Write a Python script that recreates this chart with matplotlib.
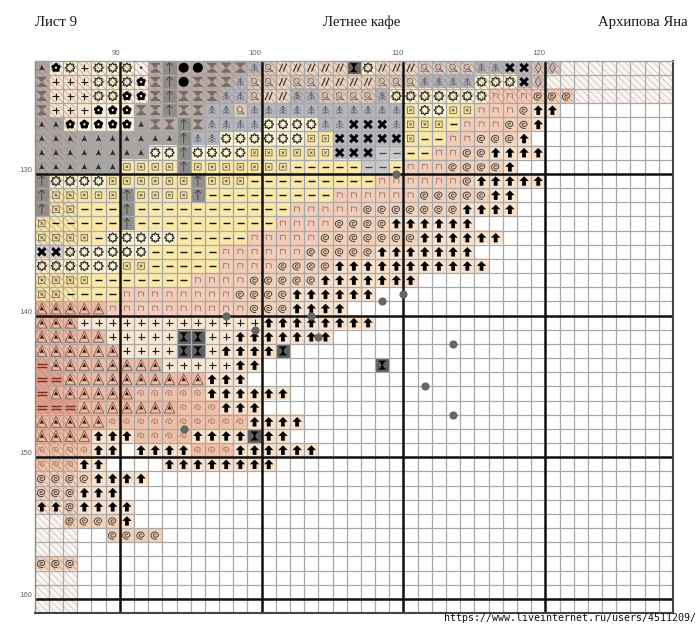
import numpy as np
import matplotlib
matplotlib.use("Agg")
import matplotlib.pyplot as plt
from matplotlib.path import Path
from matplotlib.collections import LineCollection
from matplotlib.colors import to_rgb

# ---------- data ----------
PAGE_LABEL = "Лист 9"
TITLE = "Летнее кафе"
AUTHOR = "Архипова Яна"
WATERMARK = "https://www.liveinternet.ru/users/4511209/"
COL_TICKS = [6, 16, 26, 36]
COL_LABELS = ["90", "100", "110", "120"]
ROW_TICKS = [8, 18, 28, 38]
ROW_LABELS = ["130", "140", "150", "160"]
N_COLS = 45
N_ROWS = 39

PATTERN = [
    "AFO+OOO.N^@@NNNT" "Q/////HO//" "/QQQQ" "TTXXDD",
    "N+++OOOFN^@NNNTQ" "Q/QQ////QQ" "QTTTT" "OOOXD",
    "N+++OOFFN^NNNTTQ" "//TTQQQQTO" "OOOOOO" "nnnSSS",
    "N+++FFFNN^NNTTQT" "TTTTTTTTTT" "BOOBBnnnSaa",
    "AAFFFFFANN^NTTTT" "OOOOTTXXXT" "BBB-nnnSSa",
    "AAAAAAAAAA^TTOOO" "OOOBBXXXXX" "B--nnSSSa",
    "AAAAAAAAOO^OOOOB" "BBBBBXXX~~" "--nnSSaaaa",
    "AAAAAABBBB^BBBBB" "BB-----~~-" "nnnSSSSa",
    "^OOOOBBBBBB^BBB-" "--------nn" "nnnnSaaaaa",
    "^BBBBB^BBBB^----" "-----nnnnn" "nSSSSSaa",
    "^BB---^---------" "--nnnnnSSS" "SSSSaaaa",
    "B-----^---------" "-nnnnSSSSa" "aaaaa",
    "BBBB-OOOOO-----n" "nnnnSSSSSS" "Saaaaaa",
    "xxOOOOOO-----nnn" "nnnSSSSSaa" "aaaaa",
    "OOOOOOBB-----nnn" "nSSSSaaaaa" "aaaaaa",
    "BBBB-------nnnnS" "SSSSaaaaaa" "a",
    "BB----nnnnnnnnSS" "SSaaaaaa",
    "VVVVVnnnnnnnnnnS" "SSaaaa",
    "VVV+++++++++++++" "aaaaaaaa",
    "VVVVV+++++HH++aa" "aaaaa",
    "VVVVVV++++HH+aaa" "aH",
    "=VVVVVVVV+++++aa" "        H",
    "==VVVVVVVVVVaaa ",
    "=VVVVVVsssssaaaa" "aa",
    "===VVVVVVVsssaaa",
    "VVVVVssssssssssa" "aaa",
    "VVVVaaassssaaaaH" "aa",
    "ssssaa aaaasssaa" "aaaa",
    "sssaa    aaaaaaa" "a",
    "SSSSaaaa",
    "SSSaaa",
    "aaSaaaa",
    "  SSSSa",
    "     SSSS",
    "",
    "SSS",
    "",
    "",
    "",
]

# extra grey knots placed on the grid (column, row)
KNOT_COLS = [25.5, 26.0, 24.5, 13.5, 19.5, 15.5, 20.0, 29.5, 27.5, 29.5, 10.5]
KNOT_ROWS = [8.0, 16.5, 17.0, 18.0, 18.0, 19.0, 19.5, 20.0, 23.0, 25.0, 26.0]

CELL_COLOURS = {
    " ": "#ffffff", "A": "#a9a5a2", "F": "#fbf1df", "O": "#fcf6d6", "+": "#f8e8d3",
    "N": "#b9aca6", "^": "#8f8e8b", "@": "#b8aca8", ".": "#fbf4ec", "T": "#b4b5bd",
    "Q": "#d9cabb", "/": "#e9d6c3", "H": "#5f5f5f", "B": "#f7e5a9", "-": "#fae9a9",
    "~": "#c9c9cb", "n": "#f3cdb9", "S": "#f3d2bb", "a": "#f9e3cf", "X": "#b4b5bd",
    "x": "#d3ccd8", "D": "#d3c6bf", "V": "#efb9a2", "s": "#efc1a9", "=": "#ea9f88",
}

# ---------- glyph shapes ----------
def poly(pts):
    pts = list(pts) + [pts[0]]
    return Path(pts, [Path.MOVETO] + [Path.LINETO] * (len(pts) - 2) + [Path.CLOSEPOLY])

def lines(*segs):
    v, c = [], []
    for s in segs:
        v += list(s)
        c += [Path.MOVETO] + [Path.LINETO] * (len(s) - 1)
    return Path(v, c)

def curve(t, r):
    return list(zip(r * np.cos(t), r * np.sin(t)))

th = np.linspace(0, 2 * np.pi, 65)
ARROW = poly([(0, 1), (1, 0), (.4, 0), (.4, -1), (-.4, -1), (-.4, 0), (-1, 0)])
THIN = lines([(0, -1), (0, 1)], [(-.6, .4), (0, 1), (.6, .4)])
CARET = poly([(0, 1), (.2, .35), (.8, -.8), (.25, -.6), (-.25, -.6), (-.8, -.8), (-.2, .35)])
TRI = poly([(0, 1), (.95, -1), (-.95, -1)])
FLOWER = Path.make_compound_path(*[
    Path(np.array(curve(th, .44 * np.ones_like(th))) + [.56 * np.sin(a), .56 * np.cos(a)])
    for a in np.arange(5) * 2 * np.pi / 5])
SUN = Path(curve(th, .82 + .18 * np.cos(8 * th)))
PLUS = lines([(-1, 0), (1, 0)], [(0, -1), (0, 1)])
BOBBIN = Path.make_compound_path(
    poly([(-1, 1), (1, 1), (.8, .6), (-.8, .6)]), poly([(-1, -1), (1, -1), (.8, -.6), (-.8, -.6)]),
    poly([(-.55, .6), (.55, .6), (.35, .2), (-.35, .2)]), poly([(-.55, -.6), (.55, -.6), (.35, -.2), (-.35, -.2)]),
    poly([(-.3, .1), (.3, .1), (.3, -.1), (-.3, -.1)]))
GLASS = poly([(-.8, 1), (.8, 1), (.8, .75), (.5, .75), (.12, 0), (.5, -.75), (.8, -.75), (.8, -1),
              (-.8, -1), (-.8, -.75), (-.5, -.75), (-.12, 0), (-.5, .75), (-.8, .75)])
TREE = lines([(0, -1), (0, 1)], [(-.5, .35), (0, .8), (.5, .35)], [(-.8, -.2), (0, .25), (.8, -.2)],
             [(-.8, -.75), (0, -.35), (.8, -.75)])
LOOP = lines(list(zip(.65 * np.cos(th) - .15, .65 * np.sin(th) + .2)), [(.2, -.3), (.95, -.85)], [(-.9, -.85), (.95, -.85)])
SLASHES = lines([(-.9, -1), (-.05, 1)], [(.05, -1), (.9, 1)])
BOX = lines([(-1, -1), (1, -1), (1, 1), (-1, 1), (-1, -1)], [(-.4, -.4), (.4, .4)], [(-.4, .4), (.4, -.4)])
DASH = lines([(-1, 0), (1, 0)])
ARCH = lines([(-1, -1), (-1, 1), (1, .8), (1, -1)])
t_sp = np.linspace(0, 3.6 * np.pi, 60)
SPIRAL = Path(list(zip((.12 + .88 * t_sp / t_sp[-1]) * np.cos(t_sp), (.12 + .72 * t_sp / t_sp[-1]) * np.sin(t_sp))))
t_hk = np.linspace(0, 2.8 * np.pi, 50)
HOOK = Path(list(zip((.15 + .85 * t_hk / t_hk[-1]) * np.cos(t_hk + 1), (.15 + .85 * t_hk / t_hk[-1]) * np.sin(t_hk + 1))))
CROSS = poly([(-1, -.55), (-.55, -1), (0, -.45), (.55, -1), (1, -.55), (.45, 0), (1, .55), (.55, 1),
              (0, .45), (-.55, 1), (-1, .55), (-.45, 0)])
DIAMOND = poly([(0, 1), (.6, 0), (0, -1), (-.6, 0)])
DOUBLE = lines([(-1, .3), (1, .3)], [(-1, -.3), (1, -.3)])

# code: layers of (path or name, size in px, filled?, colour, line width)
GLYPHS = {
    "a": [(ARROW, 9.5, True, "#000000", 0)],
    "^": [(THIN, 10, False, "#4a4a4a", .7)],
    "A": [(CARET, 7, True, "#2b2b2b", 0)],
    "V": [(TRI, 11, False, "#7a5a50", .6), (CARET, 5.5, True, "#111111", 0)],
    "F": [(FLOWER, 9.5, True, "#000000", 0), ("o", 2.2, True, "#ffffff", 0)],
    "O": [(SUN, 9.5, False, "#2a2a2a", .8)],
    "+": [(PLUS, 7, False, "#1a1a1a", .8)],
    "N": [(BOBBIN, 10, True, "#766a64", 0)],
    "H": [(GLASS, 9, True, "#000000", 0)],
    "@": [("o", 10, True, "#000000", 0)],
    ".": [("o", 2.5, True, "#222222", 0)],
    "T": [(TREE, 9, False, "#66666c", .55)],
    "Q": [(LOOP, 8, False, "#6c645e", .55)],
    "/": [(SLASHES, 8, False, "#3d3833", .85)],
    "B": [(BOX, 6.5, False, "#5f5a4d", .55)],
    "-": [(DASH, 7, False, "#111111", 1.0)],
    "~": [(DASH, 7, False, "#444444", .9)],
    "n": [(ARCH, 5, False, "#8d6d62", .55)],
    "S": [(SPIRAL, 8.5, False, "#3d3935", .65)],
    "s": [(HOOK, 7, False, "#a07a68", .6)],
    "X": [(CROSS, 9.5, True, "#000000", 0)],
    "x": [(CROSS, 9.5, True, "#000000", 0)],
    "D": [(DIAMOND, 10, False, "#6a5b55", .6)],
    "=": [(DOUBLE, 10, False, "#6a3529", 1.0)],
}

# ---------- figure ----------
W, H = 700, 629
L, R, T, B = 34.7, 673.0, 60.6, 613.0
fig = plt.figure(figsize=(W / 100, H / 100), dpi=100)
ax = fig.add_axes([L / W, 1 - B / H, (R - L) / W, (B - T) / H])

rows = [r.ljust(N_COLS) for r in PATTERN]
hatched = np.zeros((N_ROWS, N_COLS), bool)
hatched[:3, :] = True
hatched[:, :3] = True

img = np.ones((N_ROWS, N_COLS, 3))
for r, row in enumerate(rows):
    for c, code in enumerate(row):
        img[r, c] = to_rgb(CELL_COLOURS[code])
        if code == " " and hatched[r, c]:
            img[r, c] = to_rgb("#fcf5f1")
ax.imshow(img, extent=(0, N_COLS, N_ROWS, 0), interpolation="nearest", aspect="auto", zorder=0)

segs, cols = [], []
for r, c in zip(*np.nonzero(hatched)):
    blank = rows[r][c] == " "
    for o in (0.0, 0.5):
        segs.append([(c + o, r), (c + 1, r + 1 - o)])
        cols.append("#a9a3a3" if blank else "#b0766e")
        if o > 0:
            segs.append([(c, r + o), (c + 1 - o, r + 1)])
            cols.append("#a9a3a3" if blank else "#b0766e")
ax.add_collection(LineCollection(segs, colors=cols, linewidths=.6, alpha=.6, zorder=1))

ax.vlines(np.arange(1, N_COLS), 0, N_ROWS, color="#a8a8a8", lw=.9, zorder=2)
ax.hlines(np.arange(1, N_ROWS), 0, N_COLS, color="#a8a8a8", lw=.9, zorder=2)
ax.vlines(COL_TICKS, 0, N_ROWS, color="#111111", lw=1.8, zorder=3)
ax.hlines(ROW_TICKS, 0, N_COLS, color="#111111", lw=1.8, zorder=3)

for code, layers in GLYPHS.items():
    pts = [(c + .5, r + .5) for r, row in enumerate(rows) for c, ch in enumerate(row) if ch == code]
    if not pts:
        continue
    xs, ys = zip(*pts)
    for shape, px, filled, colour, lw in layers:
        ax.scatter(xs, ys, s=(px * .72) ** 2, marker=shape, zorder=4,
                   facecolors=colour if filled else "none",
                   edgecolors="none" if filled else colour,
                   linewidths=lw)

ax.scatter(KNOT_COLS, KNOT_ROWS, s=(8.2 * .72) ** 2, color="#666666", linewidths=0, zorder=5)

ax.set_xlim(0, N_COLS)
ax.set_ylim(N_ROWS, 0)
ax.xaxis.tick_top()
ax.set_xticks(COL_TICKS, COL_LABELS, fontfamily="Liberation Sans", fontsize=5.6, color="#666666", ha="right")
ax.set_yticks(ROW_TICKS, ROW_LABELS, fontfamily="Liberation Sans", fontsize=5.6, color="#666666", va="bottom")
ax.tick_params(axis="x", length=0, pad=2.4)
ax.tick_params(axis="y", length=0, pad=1.5)
for name, colour, lw in (("left", "#8a8a8a", 1.0), ("top", "#a0a0a0", 1.0), ("right", "#444444", 1.5), ("bottom", "#444444", 1.5)):
    ax.spines[name].set_color(colour)
    ax.spines[name].set_linewidth(lw)
    ax.spines[name].set_zorder(6)

serif = dict(family="Liberation Serif", fontsize=10.6, color="#1a1a1a", va="center")
fig.text(35 / W, 1 - 22.5 / H, PAGE_LABEL, ha="left", **serif)
fig.text(362 / W, 1 - 22.5 / H, TITLE, ha="center", **serif)
fig.text(688 / W, 1 - 22.5 / H, AUTHOR, ha="right", **serif)
fig.text(696 / W, 1 - 618 / H, WATERMARK, ha="right", va="center",
         family="DejaVu Sans Mono", fontsize=7.2, color="#111111")

fig.savefig("out.png", dpi=100)
